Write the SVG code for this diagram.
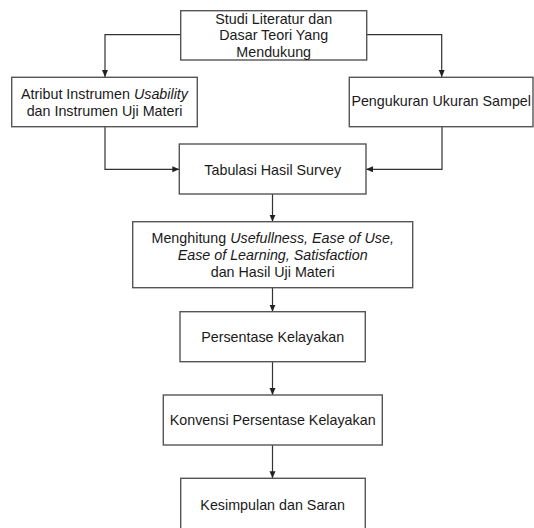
<svg xmlns="http://www.w3.org/2000/svg" width="534" height="528" viewBox="0 0 534 528">
<style>
.box{fill:#fff;stroke:#555;stroke-width:1.4}
.t{font-family:"Liberation Sans",Arial,sans-serif;font-size:14.3px;fill:#1a1a1a;text-anchor:middle}
.i{font-style:italic}
.c{fill:none;stroke:#333;stroke-width:1.2}
</style>
<defs>
<marker id="ah" markerUnits="userSpaceOnUse" markerWidth="8" markerHeight="7" refX="7" refY="3" orient="auto">
<path d="M0,0 L7,3 L0,6 z" fill="#222"/>
</marker>
</defs>
<rect width="534" height="528" fill="#fff"/>
<g id="connectors">
<path class="c" d="M180.7,34.7 H105 V77" marker-end="url(#ah)"/>
<path class="c" d="M366.7,34.7 H441.7 V77" marker-end="url(#ah)"/>
<path class="c" d="M105,127 V169.3 H179.3" marker-end="url(#ah)"/>
<path class="c" d="M442,127 V169.3 H366" marker-end="url(#ah)"/>
<path class="c" d="M272.5,194 V221.7" marker-end="url(#ah)"/>
<path class="c" d="M272.5,287.7 V311.7" marker-end="url(#ah)"/>
<path class="c" d="M272.5,361.7 V395" marker-end="url(#ah)"/>
<path class="c" d="M272.5,445 V478.3" marker-end="url(#ah)"/>
</g>
<g id="n1">
<rect class="box" x="180.7" y="10.7" width="186" height="49.3"/>
<text class="t" x="273.7" y="23.5">Studi Literatur dan</text>
<text class="t" x="273.7" y="40">Dasar Teori Yang</text>
<text class="t" x="273.7" y="56.7">Mendukung</text>
</g>
<g id="n2">
<rect class="box" x="11.7" y="77.3" width="185.6" height="49.4"/>
<text class="t" x="104.5" y="99">Atribut Instrumen <tspan class="i">Usability</tspan></text>
<text class="t" x="104.5" y="115.7">dan Instrumen Uji Materi</text>
</g>
<g id="n3">
<rect class="box" x="349.3" y="77.3" width="183.7" height="49.4"/>
<text class="t" x="441.2" y="105.5">Pengukuran Ukuran Sampel</text>
</g>
<g id="n4">
<rect class="box" x="179.3" y="144" width="186.7" height="50"/>
<text class="t" x="272.7" y="174.5">Tabulasi Hasil Survey</text>
</g>
<g id="n5">
<rect class="box" x="132.7" y="221.7" width="280" height="66"/>
<text class="t" x="272.7" y="243.3">Menghitung <tspan class="i">Usefullness, Ease of Use,</tspan></text>
<text class="t i" x="272.7" y="260">Ease of Learning, Satisfaction</text>
<text class="t" x="272.7" y="276.7">dan Hasil Uji Materi</text>
</g>
<g id="n6">
<rect class="box" x="180" y="311.7" width="185.3" height="50"/>
<text class="t" x="272.7" y="341.7">Persentase Kelayakan</text>
</g>
<g id="n7">
<rect class="box" x="163.3" y="395" width="219" height="50"/>
<text class="t" x="272.7" y="425">Konvensi Persentase Kelayakan</text>
</g>
<g id="n8">
<rect class="box" x="180.7" y="478.3" width="184.6" height="60"/>
<text class="t" x="272.7" y="510">Kesimpulan dan Saran</text>
</g>
</svg>
